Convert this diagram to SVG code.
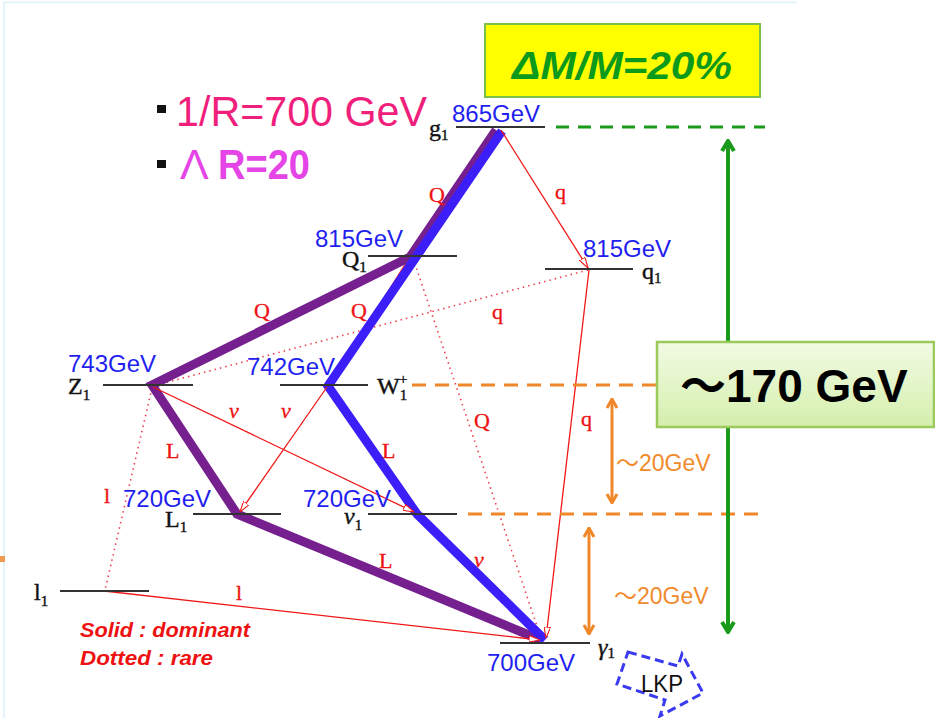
<svg xmlns="http://www.w3.org/2000/svg" width="935" height="718" viewBox="0 0 935 718">
<defs>
<style>
.lvl{stroke:#333;stroke-width:2}
.gev{font-family:"Liberation Sans","DejaVu Sans",sans-serif;font-size:24px;fill:#1f1ff0}
.nm{font-family:"Liberation Serif","DejaVu Serif",serif;font-size:24px;fill:#111;stroke:#111;stroke-width:0.4}
.sub{font-size:15px}
.rl{font-family:"Liberation Serif","DejaVu Serif",serif;font-size:22px;fill:#ee1111;stroke:#ee1111;stroke-width:0.3}
.thin{stroke:#f01818;stroke-width:1.3;fill:none}
.dot{stroke:#f04050;stroke-width:1.6;stroke-dasharray:1.5 4;fill:none}
.pur{stroke:#761f8e;stroke-width:9;fill:none}
.blu{stroke:#3c1ff8;stroke-width:9;fill:none}
.odash{stroke:#f0882a;stroke-width:3;stroke-dasharray:14 9;fill:none}
.gdash{stroke:#1a9a1a;stroke-width:3;stroke-dasharray:13 9;fill:none}
.o20{font-family:"Liberation Sans","Noto Sans CJK JP",sans-serif;font-size:23px;fill:#f08a2a}
</style>
<marker id="ar" viewBox="0 0 10 6" refX="10" refY="3" markerWidth="11" markerHeight="6.6" markerUnits="userSpaceOnUse" orient="auto">
<path d="M0,0 L10,3 L0,6 Z" fill="#fff" stroke="#f01818" stroke-width="1"/>
</marker>
<marker id="chg" viewBox="-2 -2 14 16" refX="10" refY="6" markerWidth="14" markerHeight="16" markerUnits="userSpaceOnUse" orient="auto-start-reverse">
<path d="M0,0 L10,6 L0,12" fill="none" stroke="#1a9a1a" stroke-width="4"/>
</marker>
<marker id="cho" viewBox="-2 -2 12 14" refX="9" refY="5" markerWidth="12" markerHeight="14" markerUnits="userSpaceOnUse" orient="auto-start-reverse">
<path d="M0,0 L9,5 L0,10" fill="none" stroke="#f0882a" stroke-width="3"/>
</marker>
<linearGradient id="bg170" x1="0" y1="0" x2="0" y2="1">
<stop offset="0" stop-color="#f2fbe4"/>
<stop offset="1" stop-color="#d4efac"/>
</linearGradient>
<linearGradient id="og" x1="0" y1="0" x2="1" y2="0">
<stop offset="0" stop-color="#f0882a"/>
<stop offset="1" stop-color="#1a9a1a"/>
</linearGradient>
</defs>

<rect width="935" height="718" fill="#fff"/>
<path d="M3,2.5 H797 M4,2.5 V718" stroke="#dcf2f8" stroke-width="1.5" fill="none"/>
<rect x="0" y="556" width="5" height="6" fill="#f09a50"/>

<g id="params">
<rect x="157" y="105" width="9" height="8" fill="#111"/>
<text x="176" y="126" font-family="Liberation Sans,sans-serif" font-size="43" fill="#f01f7c" textLength="251" lengthAdjust="spacingAndGlyphs">1/R=700 GeV</text>
<rect x="157" y="160" width="9" height="8" fill="#111"/>
<text x="180" y="179" font-family="Liberation Sans,sans-serif" font-size="43" fill="#e545e6">Λ<tspan x="218" font-weight="bold" textLength="92" lengthAdjust="spacingAndGlyphs">R=20</tspan></text>
</g>

<g id="dm-box">
<rect x="485" y="24" width="275" height="73" fill="#ffff00" stroke="#7cc04a" stroke-width="2"/>
<text x="512" y="79" font-family="Liberation Sans,sans-serif" font-size="38" font-weight="bold" font-style="italic" fill="#0c9a1c" textLength="220" lengthAdjust="spacingAndGlyphs">ΔM/M=20%</text>
</g>

<g id="connectors">
<line class="dot" x1="413" y1="258" x2="541" y2="638"/>
<line class="dot" x1="588" y1="270" x2="153" y2="386"/>
<line class="dot" x1="152" y1="388" x2="105" y2="590"/>
<line class="thin" x1="409" y1="258" x2="331" y2="383" marker-end="url(#ar)"/>
<polyline class="pur" points="496,130 410,257 152,385 237,514 541,640"/>
<polyline class="blu" points="502,131 328,386 417,514 545,640"/>
<line class="thin" x1="501" y1="130" x2="588" y2="268" marker-end="url(#ar)"/>
<line class="thin" x1="589" y1="270" x2="546" y2="638" marker-end="url(#ar)"/>
<line class="thin" x1="327" y1="387" x2="240" y2="512" marker-end="url(#ar)"/>
<line class="thin" x1="153" y1="387" x2="414" y2="512" marker-end="url(#ar)"/>
<line class="thin" x1="104" y1="591" x2="540" y2="640" marker-end="url(#ar)"/>
<g class="rl">
<text x="429" y="202">Q</text>
<text x="555" y="199">q</text>
<text x="254" y="318">Q</text>
<text x="351" y="318">Q</text>
<text x="492" y="319">q</text>
<text x="229" y="418" font-style="italic">ν</text>
<text x="281" y="418" font-style="italic">ν</text>
<text x="166" y="458">L</text>
<text x="382" y="458">L</text>
<text x="474" y="428">Q</text>
<text x="581" y="426">q</text>
<text x="104" y="503">l</text>
<text x="379" y="568">L</text>
<text x="474" y="567" font-style="italic">ν</text>
<text x="236" y="600">l</text>
</g>
</g>

<g id="scale">
<line class="gdash" x1="556" y1="127" x2="765" y2="127"/>
<line class="odash" x1="412" y1="385" x2="657" y2="385"/>
<line class="odash" x1="468" y1="514" x2="762" y2="514"/>
<line stroke="url(#og)" stroke-width="3" stroke-dasharray="13 9" x1="634" y1="645" x2="758" y2="645"/>
<line x1="728" y1="141" x2="728" y2="632" stroke="#1a9a1a" stroke-width="4" marker-start="url(#chg)" marker-end="url(#chg)"/>
<line x1="612" y1="399" x2="612" y2="503" stroke="#f0882a" stroke-width="3" marker-start="url(#cho)" marker-end="url(#cho)"/>
<line x1="589" y1="528" x2="589" y2="634" stroke="#f0882a" stroke-width="3" marker-start="url(#cho)" marker-end="url(#cho)"/>
<text class="o20" x="616" y="471">～20GeV</text>
<text class="o20" x="614" y="604">～20GeV</text>
</g>

<g id="box170">
<rect x="657" y="342" width="277" height="85" fill="url(#bg170)" stroke="#9bc95a" stroke-width="2.5"/>
<text x="680" y="402" font-family="Liberation Sans,'Noto Sans CJK JP',sans-serif" font-size="46" font-weight="bold" fill="#000">～170 GeV</text>
</g>

<g id="g1">
<line class="lvl" x1="456" y1="127" x2="545" y2="127"/>
<text class="gev" x="452" y="122">865GeV</text>
<text class="nm" x="429" y="136">g<tspan class="sub" dy="4">1</tspan></text>
</g>
<g id="Q1">
<line class="lvl" x1="368" y1="256" x2="457" y2="256"/>
<text class="gev" x="315" y="247">815GeV</text>
<text class="nm" x="342" y="267">Q<tspan class="sub" dy="5">1</tspan></text>
</g>
<g id="q1">
<line class="lvl" x1="545" y1="269" x2="633" y2="269"/>
<text class="gev" x="583" y="257">815GeV</text>
<text class="nm" x="642" y="279">q<tspan class="sub" dy="4">1</tspan></text>
</g>
<g id="Z1">
<line class="lvl" x1="103" y1="385" x2="193" y2="385"/>
<text class="gev" x="68" y="372">743GeV</text>
<text class="nm" x="68" y="394">Z<tspan class="sub" dy="6">1</tspan></text>
</g>
<g id="W1">
<line class="lvl" x1="280" y1="385" x2="368" y2="385"/>
<text class="gev" x="247" y="375">742GeV</text>
<text class="nm" x="377" y="394">W<tspan class="sub" dy="6">1</tspan><tspan class="sub" x="399" dy="-16">+</tspan></text>
</g>
<g id="L1">
<line class="lvl" x1="193" y1="514" x2="281" y2="514"/>
<text class="gev" x="123" y="507">720GeV</text>
<text class="nm" x="165" y="527">L<tspan class="sub" dy="5">1</tspan></text>
</g>
<g id="nu1">
<line class="lvl" x1="368" y1="514" x2="457" y2="514"/>
<text class="gev" x="303" y="507">720GeV</text>
<text class="nm" x="344" y="524" font-style="italic">ν<tspan class="sub" font-style="normal" dy="6">1</tspan></text>
</g>
<g id="l1">
<line class="lvl" x1="60" y1="591" x2="149" y2="591"/>
<text class="nm" x="34" y="600">l<tspan class="sub" dy="6">1</tspan></text>
</g>
<g id="gamma1">
<line class="lvl" x1="500" y1="643" x2="590" y2="643"/>
<text class="gev" x="487" y="671">700GeV</text>
<text class="nm" x="598" y="655" font-style="italic">γ<tspan class="sub" font-style="normal" dy="3">1</tspan></text>
</g>

<g id="legend-lines" font-family="Liberation Sans,sans-serif" font-size="20" font-weight="bold" font-style="italic" fill="#ee1111">
<text x="80" y="637" textLength="170" lengthAdjust="spacingAndGlyphs">Solid : dominant</text>
<text x="80" y="665" textLength="133" lengthAdjust="spacingAndGlyphs">Dotted : rare</text>
</g>

<g id="LKP">
<polygon points="628,652 678,666 682,654 703,693 660,716 665,700 617,684" fill="none" stroke="#3a3af0" stroke-width="3" stroke-dasharray="9 5"/>
<text x="641" y="692" font-family="Liberation Sans,sans-serif" font-size="24" fill="#111" textLength="42" lengthAdjust="spacingAndGlyphs">LKP</text>
</g>
</svg>
